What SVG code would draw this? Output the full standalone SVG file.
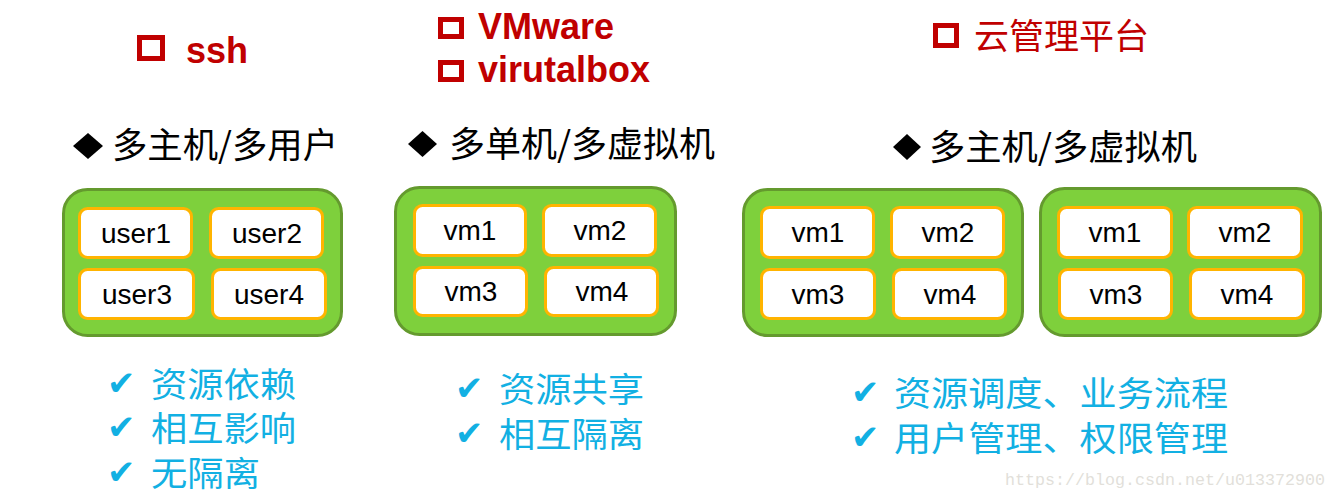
<svg xmlns="http://www.w3.org/2000/svg" width="1338" height="500" viewBox="0 0 1338 500">
<style>
.outer{fill:#7ED03C;stroke:#649A2E;stroke-width:3}
.inner{fill:#FFFFFF;stroke:#FFB400;stroke-width:3}
.lbl{font-family:"Liberation Sans",Arial,sans-serif;font-size:28px;fill:#000;text-anchor:middle}
.sq{fill:#FFFFFF;stroke:#C00000;stroke-width:5}
.red{font-family:"Liberation Sans",Arial,sans-serif;font-weight:bold;font-size:36px;fill:#C00000}
.redcjk{font-family:"Noto Sans CJK SC",sans-serif;font-size:35px;fill:#C00000}
.hd{font-family:"Noto Sans CJK SC",sans-serif;font-size:35px;fill:#000}
.dia{fill:#000}
.chk{font-family:"DejaVu Sans",sans-serif;font-size:34px;fill:#12B0E3}
.cy{font-family:"Noto Sans CJK SC",sans-serif;font-size:34px;fill:#12B0E3}
.wm{font-family:"Liberation Mono",monospace;font-size:17px;fill:#E2DFDA}
</style>

<g id="tool-ssh">
<rect class="sq" x="139.5" y="37.5" width="23" height="21"/>
<text class="red" x="186" y="63" font-size="35">ssh</text>
</g>
<g id="tool-vmware">
<rect class="sq" x="440.5" y="19.5" width="21" height="17"/>
<text class="red" x="478" y="39">VMware</text>
</g>
<g id="tool-virtualbox">
<rect class="sq" x="440.5" y="62.5" width="21" height="17"/>
<text class="red" x="478" y="82">virutalbox</text>
</g>
<g id="tool-cloud">
<rect class="sq" x="935.5" y="25.5" width="21" height="20"/>
<text class="redcjk" x="974" y="49">云管理平台</text>
</g>

<g id="header1">
<polygon class="dia" points="88,133 103,146 88,159 73,146"/>
<text class="hd" x="112" y="158" textLength="226" lengthAdjust="spacingAndGlyphs">多主机/多用户</text>
</g>
<g id="header2">
<polygon class="dia" points="422.5,131 437,144 422.5,157 408,144"/>
<text class="hd" x="449" y="157" textLength="266" lengthAdjust="spacingAndGlyphs">多单机/多虚拟机</text>
</g>
<g id="header3">
<polygon class="dia" points="907,134 921,147 907,160 893,147"/>
<text class="hd" x="929" y="160" textLength="268" lengthAdjust="spacingAndGlyphs">多主机/多虚拟机</text>
</g>

<g id="group1">
<rect class="outer" x="63.5" y="189.5" width="278" height="146" rx="24"/>
<g id="user1"><rect class="inner" x="79.5" y="208.5" width="112" height="49" rx="8"/><text class="lbl" x="136" y="243">user1</text></g>
<g id="user2"><rect class="inner" x="210.5" y="208.5" width="112" height="49" rx="8"/><text class="lbl" x="267" y="243">user2</text></g>
<g id="user3"><rect class="inner" x="79.5" y="269.5" width="114" height="49" rx="8"/><text class="lbl" x="137" y="304">user3</text></g>
<g id="user4"><rect class="inner" x="212.5" y="269.5" width="113" height="49" rx="8"/><text class="lbl" x="269" y="304">user4</text></g>
</g>

<g id="group2">
<rect class="outer" x="395.5" y="187.5" width="280" height="147" rx="24"/>
<g id="g2-vm1"><rect class="inner" x="414.5" y="205.5" width="111" height="50" rx="8"/><text class="lbl" x="470" y="240">vm1</text></g>
<g id="g2-vm2"><rect class="inner" x="543.5" y="205.5" width="112" height="50" rx="8"/><text class="lbl" x="600" y="240">vm2</text></g>
<g id="g2-vm3"><rect class="inner" x="414.5" y="267.5" width="112" height="48" rx="8"/><text class="lbl" x="471" y="301">vm3</text></g>
<g id="g2-vm4"><rect class="inner" x="545.5" y="267.5" width="112" height="48" rx="8"/><text class="lbl" x="602" y="301">vm4</text></g>
</g>

<g id="group3a">
<rect class="outer" x="743.5" y="189.5" width="279" height="146" rx="24"/>
<g id="g3a-vm1"><rect class="inner" x="761.5" y="207.5" width="112" height="50" rx="8"/><text class="lbl" x="818" y="242">vm1</text></g>
<g id="g3a-vm2"><rect class="inner" x="891.5" y="207.5" width="112" height="50" rx="8"/><text class="lbl" x="948" y="242">vm2</text></g>
<g id="g3a-vm3"><rect class="inner" x="761.5" y="269.5" width="113" height="49" rx="8"/><text class="lbl" x="818" y="304">vm3</text></g>
<g id="g3a-vm4"><rect class="inner" x="893.5" y="269.5" width="112" height="49" rx="8"/><text class="lbl" x="950" y="304">vm4</text></g>
</g>

<g id="group3b">
<rect class="outer" x="1040.5" y="188.5" width="280" height="147" rx="24"/>
<g id="g3b-vm1"><rect class="inner" x="1058.5" y="207.5" width="113" height="50" rx="8"/><text class="lbl" x="1115" y="242">vm1</text></g>
<g id="g3b-vm2"><rect class="inner" x="1188.5" y="207.5" width="113" height="50" rx="8"/><text class="lbl" x="1245" y="242">vm2</text></g>
<g id="g3b-vm3"><rect class="inner" x="1059.5" y="269.5" width="112" height="49" rx="8"/><text class="lbl" x="1116" y="304">vm3</text></g>
<g id="g3b-vm4"><rect class="inner" x="1190.5" y="269.5" width="113" height="49" rx="8"/><text class="lbl" x="1247" y="304">vm4</text></g>
</g>

<g id="connectors"></g>

<g id="notes1">
<text class="chk" x="107" y="395">✔</text><text class="cy" x="151" y="397" textLength="145" lengthAdjust="spacingAndGlyphs">资源依赖</text>
<text class="chk" x="107" y="439">✔</text><text class="cy" x="151" y="441" textLength="145" lengthAdjust="spacingAndGlyphs">相互影响</text>
<text class="chk" x="107" y="484">✔</text><text class="cy" x="151" y="486" textLength="109" lengthAdjust="spacingAndGlyphs">无隔离</text>
</g>
<g id="notes2">
<text class="chk" x="455" y="400">✔</text><text class="cy" x="499" y="402" textLength="145" lengthAdjust="spacingAndGlyphs">资源共享</text>
<text class="chk" x="455" y="445">✔</text><text class="cy" x="499" y="447" textLength="145" lengthAdjust="spacingAndGlyphs">相互隔离</text>
</g>
<g id="notes3">
<text class="chk" x="851" y="404">✔</text><text class="cy" x="894" y="406" textLength="334" lengthAdjust="spacingAndGlyphs">资源调度、业务流程</text>
<text class="chk" x="851" y="449">✔</text><text class="cy" x="894" y="451" textLength="334" lengthAdjust="spacingAndGlyphs">用户管理、权限管理</text>
</g>

<text class="wm" x="1005" y="485" textLength="320" lengthAdjust="spacingAndGlyphs">https://blog.csdn.net/u013372900</text>
</svg>
